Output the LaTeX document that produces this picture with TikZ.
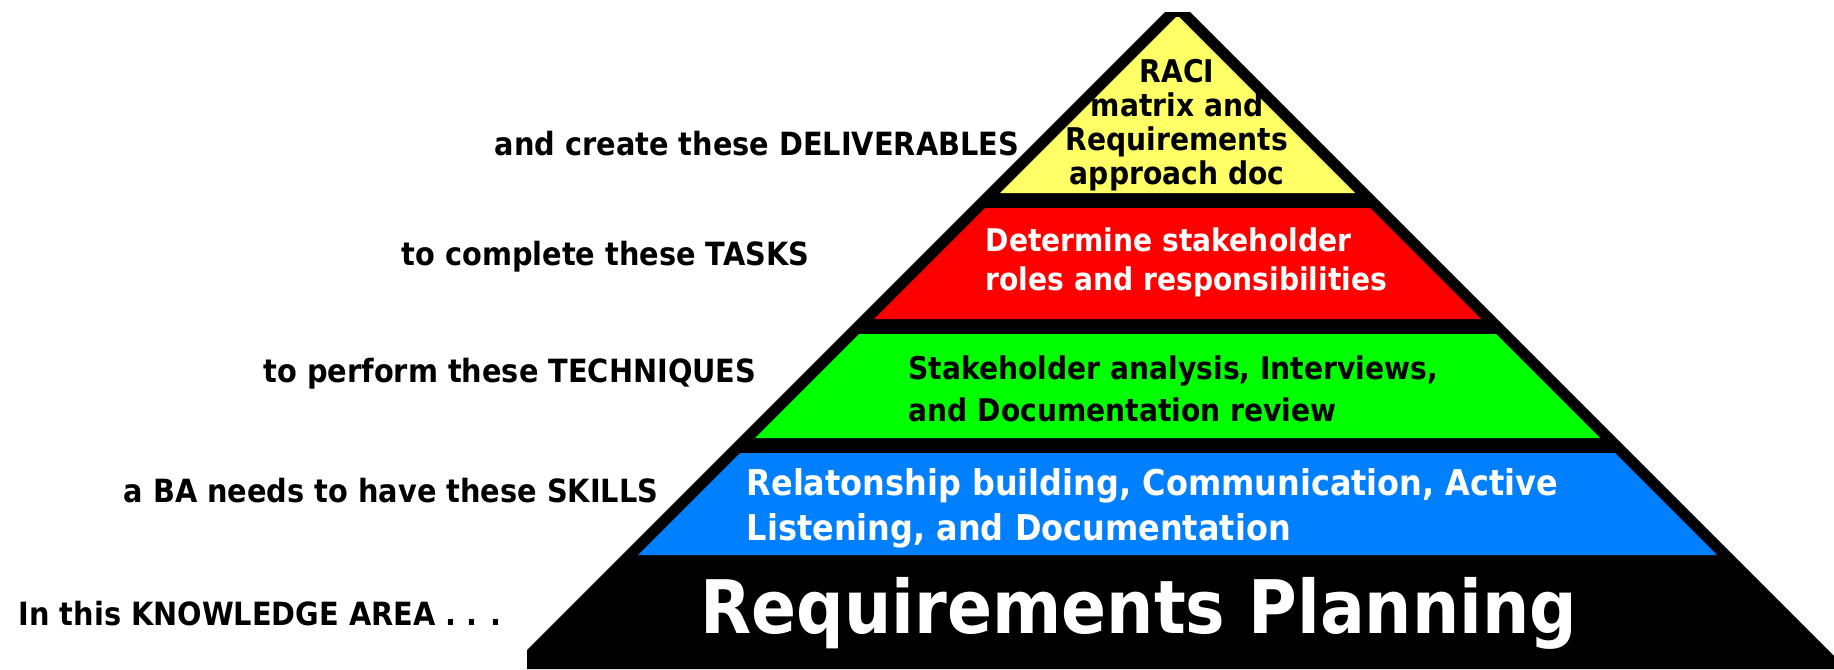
\documentclass[tikz,border=0pt]{standalone}
\usepackage{fontspec}
\setmainfont{DejaVu Sans}[FakeStretch=0.9]

\definecolor{raciyellow}{RGB}{255,255,102}
\definecolor{taskred}{RGB}{255,0,0}
\definecolor{techgreen}{RGB}{0,255,0}
\definecolor{skillblue}{RGB}{0,128,255}

\begin{document}
\begin{tikzpicture}[x=0.01cm,y=-0.01cm,
  lbl/.style={anchor=base west,inner sep=0pt,font=\fontsize{9.1}{10}\selectfont\bfseries},
  layertext/.style={anchor=north west,inner sep=0pt,align=left},
]
\useasboundingbox (0,0) rectangle (1834,669);
% outline and base of the pyramid
\fill[black] (1165,12) -- (1190,12) -- (1834,656) -- (1834,669) -- (527,669) -- (527,650) -- cycle;
% the four layers
\fill[raciyellow] (1176,17) -- (1179,17) -- (1355,193) -- (1000,193) -- cycle;
\fill[taskred] (985,208) -- (1370,208) -- (1481,319) -- (874,319) -- cycle;
\fill[techgreen] (859,334) -- (1496,334) -- (1600,438) -- (755,438) -- cycle;
\fill[skillblue] (740,453) -- (1615,453) -- (1717,555) -- (638,555) -- cycle;

\node[layertext,anchor=north,align=center,font=\fontsize{8.9}{9.6}\selectfont\bfseries] (raci) at (1177,59) {RACI\\matrix and\\Requirements\\approach doc};
\node[layertext,text=white,font=\fontsize{8.9}{11.1}\selectfont\bfseries] (tasks) at (985,227) {Determine stakeholder\\roles and responsibilities};
\node[layertext,font=\fontsize{8.9}{11.95}\selectfont\bfseries] (techniques) at (908,355) {Stakeholder analysis, Interviews,\\and Documentation review};
\node[layertext,text=white,font=\fontsize{10.1}{12.8}\selectfont\bfseries] (skills) at (746,468) {Relatonship building, Communication, Active\\Listening, and Documentation};
\node[anchor=base,inner sep=0pt,text=white,font=\fontsize{21}{24}\selectfont\bfseries] (area) at (1139,633) {Requirements Planning};

% what each layer stands for
\node[lbl] (deliverlbl) at (494,155) {and create these DELIVERABLES};
\node[lbl] (tasklbl) at (401,265) {to complete these TASKS};
\node[lbl] (techlbl) at (263,382) {to perform these TECHNIQUES};
\node[lbl] (skilllbl) at (123,502) {a BA needs to have these SKILLS};
\node[lbl] (arealbl) at (18,625) {In this KNOWLEDGE AREA . . .};
\end{tikzpicture}
\end{document}
